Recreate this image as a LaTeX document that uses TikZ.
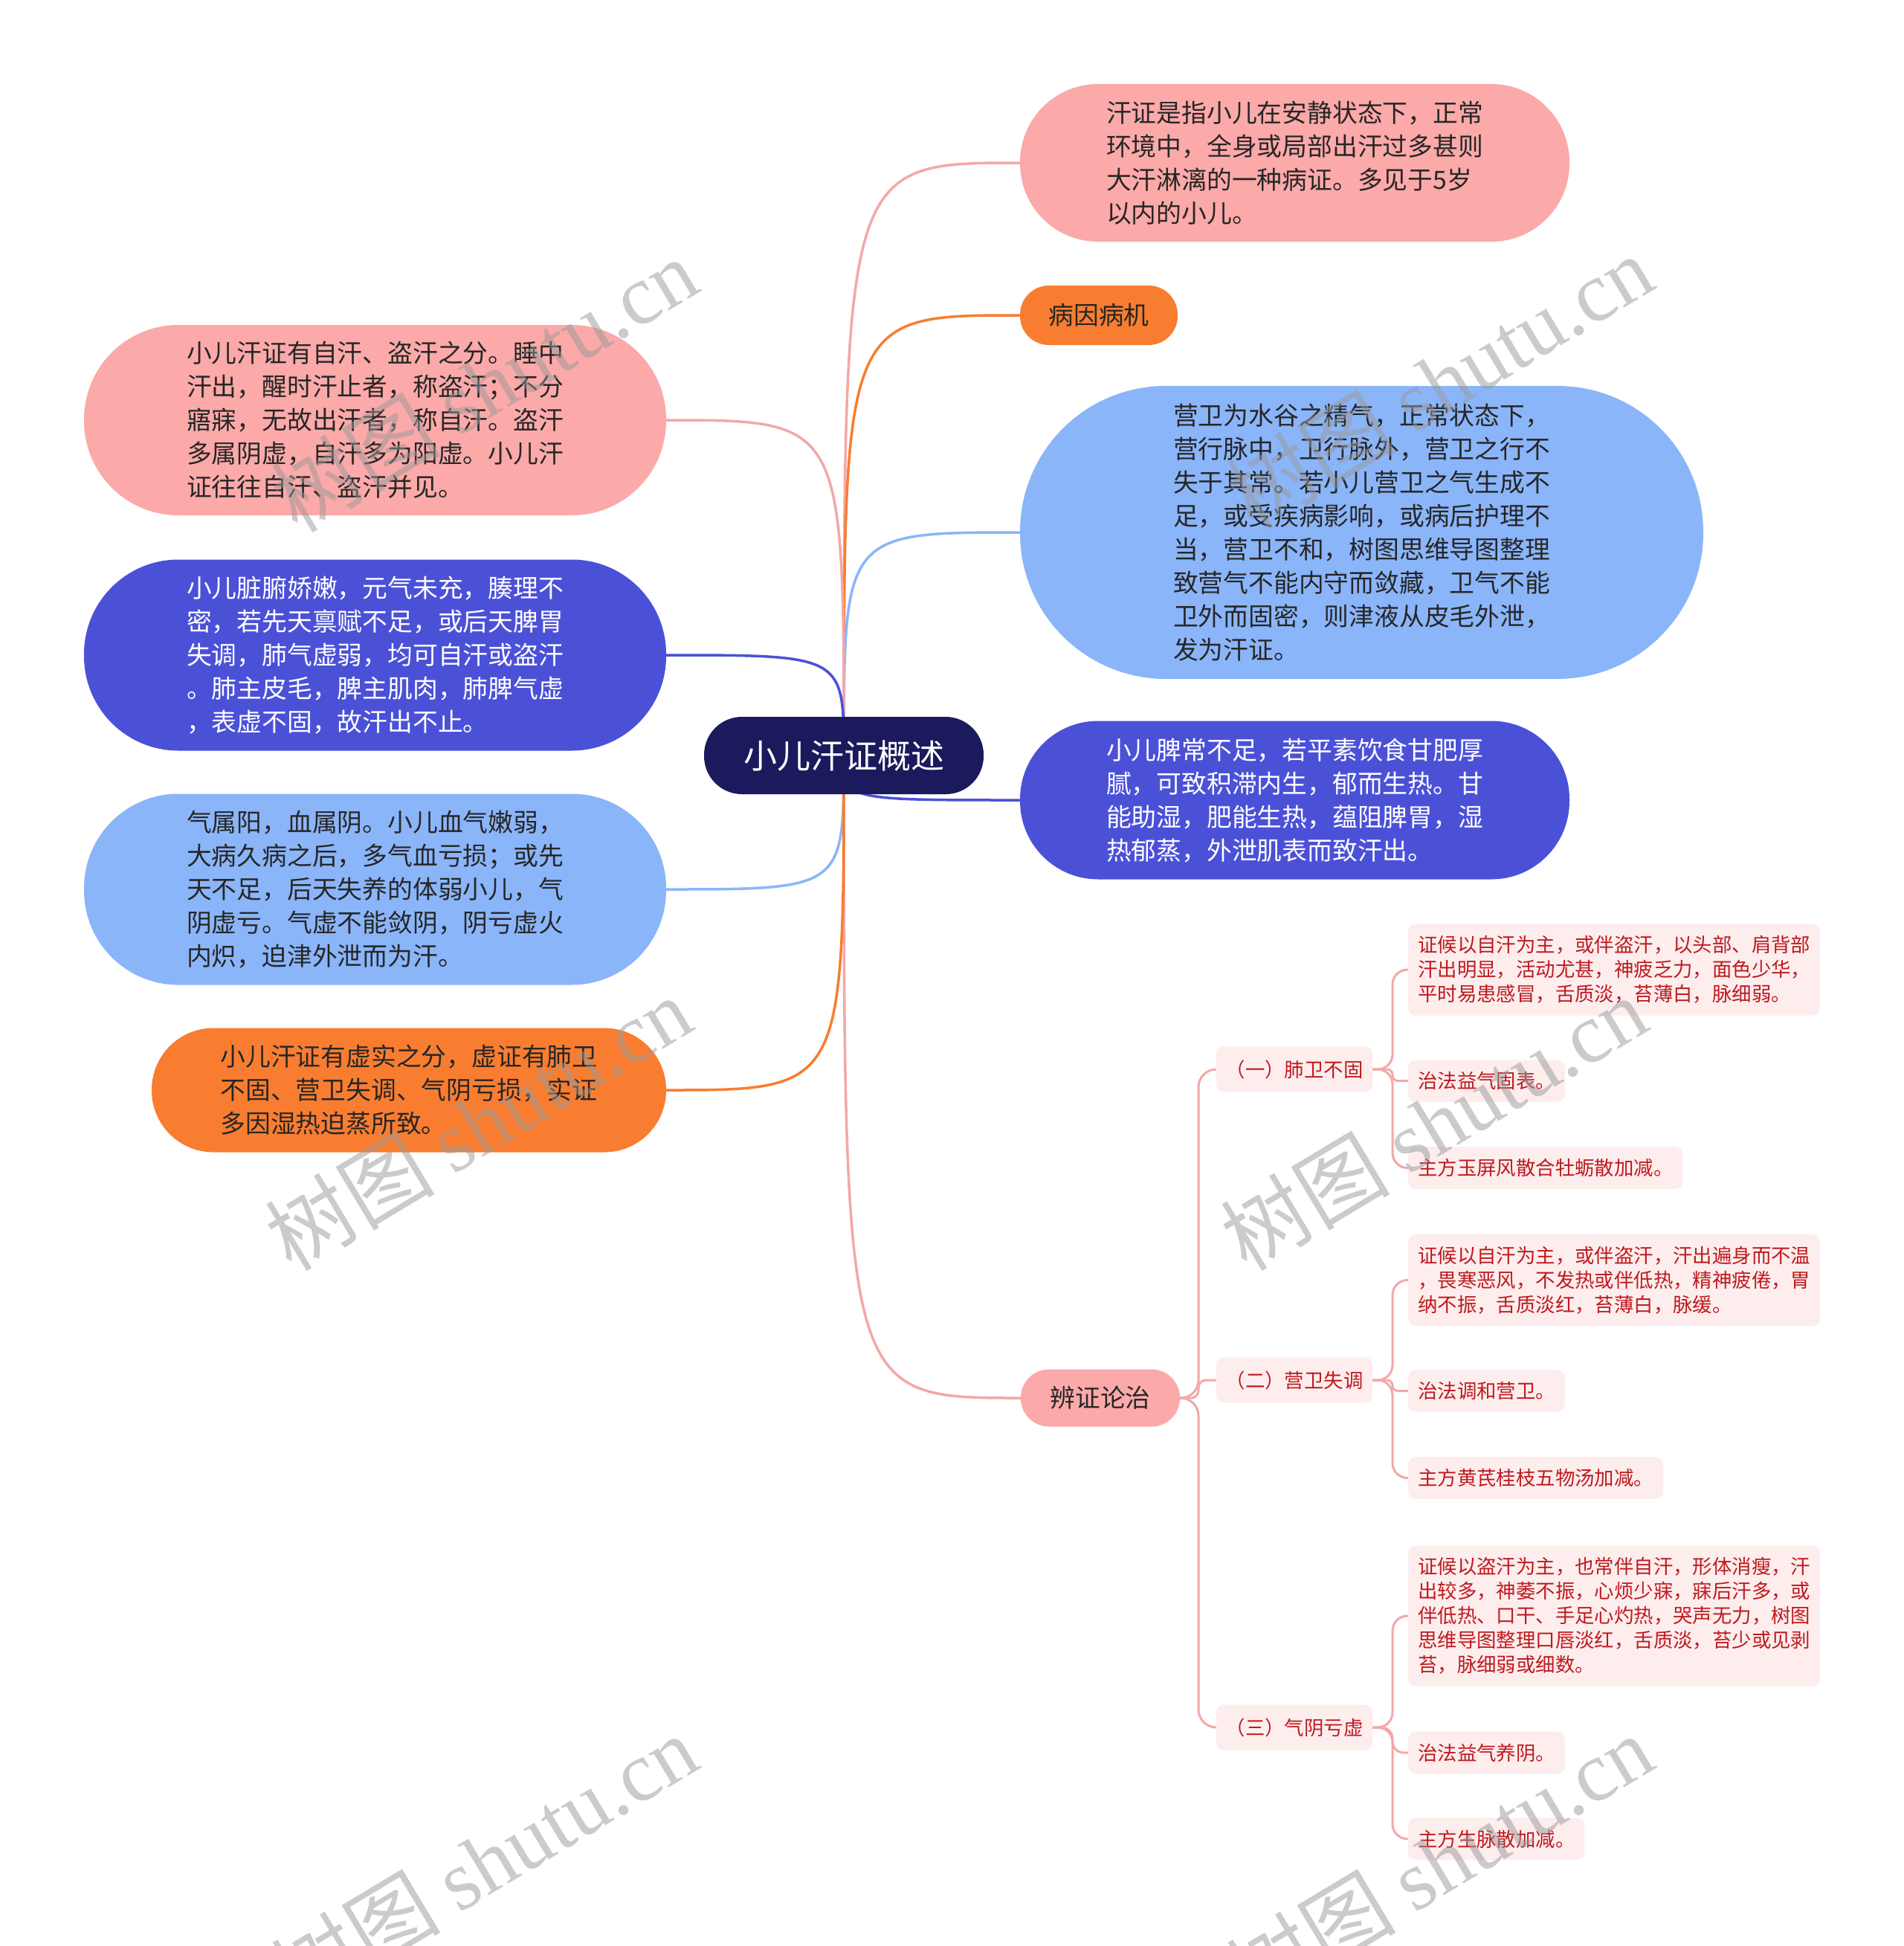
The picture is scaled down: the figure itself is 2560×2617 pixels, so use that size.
\documentclass[tikz,border=0pt]{standalone}
\usepackage{fontspec}
\setmainfont{Noto Sans CJK SC}
\newfontfamily\wmlatin{Liberation Serif}
\usetikzlibrary{backgrounds}
\definecolor{cpink}{HTML}{FBA9A9}
\definecolor{cindigo}{HTML}{4B51D7}
\definecolor{cblue}{HTML}{8BB5F9}
\definecolor{corange}{HTML}{F97D30}
\definecolor{croot}{HTML}{1B1A5C}
\definecolor{cleaf}{HTML}{FDEDED}
\definecolor{cred}{HTML}{BE1A1F}
\definecolor{ctext}{HTML}{262626}
\definecolor{clink}{HTML}{F3A8A8}
\tikzset{
  big/.style={rectangle, align=left, text=ctext, inner sep=0pt,
    font=\fontsize{33.8pt}{45pt}\selectfont},
  rootbox/.style={rectangle, fill=croot, text=white, minimum width=376pt,
    minimum height=104pt, rounded corners=51pt,
    font=\fontsize{45pt}{54pt}\selectfont},
  subbox/.style={rectangle, fill=cleaf, text=cred, minimum width=210pt,
    minimum height=61pt, rounded corners=10pt, inner sep=0pt,
    font=\fontsize{26.4pt}{33pt}\selectfont},
  leaf/.style={rectangle, fill=cleaf, text=cred, anchor=west, align=left,
    rounded corners=10pt, inner xsep=13pt, inner ysep=16pt,
    font=\fontsize{26.4pt}{33pt}\selectfont},
  conn/.style={line width=3.5pt},
  subconn/.style={line width=3pt, draw=clink},
  wm/.style={rotate=31, text=black!40, text opacity=0.5,
    font=\fontsize{114pt}{120pt}\selectfont}
}
\begin{document}
\begin{tikzpicture}[x=1pt,y=-1pt]
\useasboundingbox (0,0) rectangle (2560,2617);

% root
\node[rootbox] (root) at (1135,1016) {小儿汗证概述};

% right side
\node[big, fill=cpink, minimum width=739pt, minimum height=212pt, rounded corners=105pt] (r1) at (1741.5,219)
{汗证是指小儿在安静状态下，正常\\环境中，全身或局部出汗过多甚则\\大汗淋漓的一种病证。多见于5岁\\以内的小儿。};
\node[big, fill=corange, minimum width=212pt, minimum height=80pt, rounded corners=39pt] (r2) at (1478,424) {病因病机};
\node[big, fill=cblue, minimum width=919pt, minimum height=394pt, rounded corners=196pt] (r3) at (1831.5,716)
{营卫为水谷之精气，正常状态下，\\营行脉中，卫行脉外，营卫之行不\\失于其常。若小儿营卫之气生成不\\足，或受疾病影响，或病后护理不\\当，营卫不和，树图思维导图整理\\致营气不能内守而敛藏，卫气不能\\卫外而固密，则津液从皮毛外泄，\\发为汗证。};
\node[big, fill=cindigo, text=white, minimum width=739pt, minimum height=213pt, rounded corners=105pt] (r4) at (1741.5,1076)
{小儿脾常不足，若平素饮食甘肥厚\\腻，可致积滞内生，郁而生热。甘\\能助湿，肥能生热，蕴阻脾胃，湿\\热郁蒸，外泄肌表而致汗出。};
\node[big, fill=cpink, minimum width=214pt, minimum height=77pt, rounded corners=38pt] (r5) at (1480,1880) {辨证论治};

% left side
\node[big, fill=cpink, minimum width=783pt, minimum height=256pt, rounded corners=127pt] (l1) at (504.5,565)
{小儿汗证有自汗、盗汗之分。睡中\\汗出，醒时汗止者，称盗汗；不分\\寤寐，无故出汗者，称自汗。盗汗\\多属阴虚，自汗多为阳虚。小儿汗\\证往往自汗、盗汗并见。};
\node[big, fill=cindigo, text=white, minimum width=783pt, minimum height=257pt, rounded corners=127pt] (l2) at (504.5,881)
{小儿脏腑娇嫩，元气未充，腠理不\\密，若先天禀赋不足，或后天脾胃\\失调，肺气虚弱，均可自汗或盗汗\\。肺主皮毛，脾主肌肉，肺脾气虚\\，表虚不固，故汗出不止。};
\node[big, fill=cblue, minimum width=783pt, minimum height=257pt, rounded corners=127pt] (l3) at (504.5,1196)
{气属阳，血属阴。小儿血气嫩弱，\\大病久病之后，多气血亏损；或先\\天不足，后天失养的体弱小儿，气\\阴虚亏。气虚不能敛阴，阴亏虚火\\内炽，迫津外泄而为汗。};
\node[big, fill=corange, minimum width=692pt, minimum height=167pt, rounded corners=83pt] (l4) at (550,1466)
{小儿汗证有虚实之分，虚证有肺卫\\不固、营卫失调、气阴亏损，实证\\多因湿热迫蒸所致。};

% second level
\node[subbox] (s1) at (1741,1438) {（一）肺卫不固};
\node[subbox] (s2) at (1741,1856) {（二）营卫失调};
\node[subbox] (s3) at (1741,2323) {（三）气阴亏虚};

% leaves
\node[leaf] (a1) at (1894,1304) {证候以自汗为主，或伴盗汗，以头部、肩背部\\汗出明显，活动尤甚，神疲乏力，面色少华，\\平时易患感冒，舌质淡，苔薄白，脉细弱。};
\node[leaf] (a2) at (1894,1453.5) {治法益气固表。};
\node[leaf] (a3) at (1894,1570.5) {主方玉屏风散合牡蛎散加减。};
\node[leaf] (b1) at (1894,1721.5) {证候以自汗为主，或伴盗汗，汗出遍身而不温\\，畏寒恶风，不发热或伴低热，精神疲倦，胃\\纳不振，舌质淡红，苔薄白，脉缓。};
\node[leaf] (b2) at (1894,1870.5) {治法调和营卫。};
\node[leaf] (b3) at (1894,1987.5) {主方黄芪桂枝五物汤加减。};
\node[leaf] (c1) at (1894,2173) {证候以盗汗为主，也常伴自汗，形体消瘦，汗\\出较多，神萎不振，心烦少寐，寐后汗多，或\\伴低热、口干、手足心灼热，哭声无力，树图\\思维导图整理口唇淡红，舌质淡，苔少或见剥\\苔，脉细弱或细数。};
\node[leaf] (c2) at (1894,2357) {治法益气养阴。};
\node[leaf] (c3) at (1894,2473) {主方生脉散加减。};

\begin{pgfonlayer}{background}
\fill[white] (0,0) rectangle (2560,2617);
% main connectors
\draw[conn, draw=clink] (root.center) .. controls (1135,219) .. (r1.west);
\draw[conn, draw=corange] (root.center) .. controls (1135,424) .. (r2.west);
\draw[conn, draw=cblue] (root.center) .. controls (1135,716) .. (r3.west);
\draw[conn, draw=cindigo] (root.center) .. controls (1135,1076) .. (r4.west);
\draw[conn, draw=clink] (root.center) .. controls (1135,1880) .. (r5.west);
\draw[conn, draw=clink] (root.center) .. controls (1135,565) .. (l1.east);
\draw[conn, draw=cindigo] (root.center) .. controls (1135,881) .. (l2.east);
\draw[conn, draw=cblue] (root.center) .. controls (1135,1196) .. (l3.east);
\draw[conn, draw=corange] (root.center) .. controls (1135,1466) .. (l4.east);
% second level connectors
\draw[subconn, rounded corners=24pt] (r5.east) -- (1612,1880) -- (1612,1438) -- (s1.west);
\draw[subconn, rounded corners=10pt] (r5.east) -- (1612,1880) -- (1612,1856) -- (s2.west);
\draw[subconn, rounded corners=24pt] (r5.east) -- (1612,1880) -- (1612,2323) -- (s3.west);
% leaf connectors
\draw[subconn, rounded corners=20pt] (s1.east) -- (1873,1438) -- (1873,1304) -- (a1.west);
\draw[subconn, rounded corners=7pt] (s1.east) -- (1873,1438) -- (1873,1453.5) -- (a2.west);
\draw[subconn, rounded corners=20pt] (s1.east) -- (1873,1438) -- (1873,1570.5) -- (a3.west);
\draw[subconn, rounded corners=20pt] (s2.east) -- (1873,1856) -- (1873,1721.5) -- (b1.west);
\draw[subconn, rounded corners=7pt] (s2.east) -- (1873,1856) -- (1873,1870.5) -- (b2.west);
\draw[subconn, rounded corners=20pt] (s2.east) -- (1873,1856) -- (1873,1987.5) -- (b3.west);
\draw[subconn, rounded corners=20pt] (s3.east) -- (1873,2323) -- (1873,2173) -- (c1.west);
\draw[subconn, rounded corners=15pt] (s3.east) -- (1873,2323) -- (1873,2357) -- (c2.west);
\draw[subconn, rounded corners=20pt] (s3.east) -- (1873,2323) -- (1873,2473) -- (c3.west);
\end{pgfonlayer}

% watermarks
\node[wm] (w1) at (651,517) {树图 {\wmlatin shutu.cn}};
\node[wm] (w2) at (1936,513) {树图 {\wmlatin shutu.cn}};
\node[wm] (w3) at (643,1510) {树图 {\wmlatin shutu.cn}};
\node[wm] (w4) at (1928,1510) {树图 {\wmlatin shutu.cn}};
\node[wm] (w5) at (651,2503) {树图 {\wmlatin shutu.cn}};
\node[wm] (w6) at (1936,2503) {树图 {\wmlatin shutu.cn}};
\end{tikzpicture}
\end{document}
